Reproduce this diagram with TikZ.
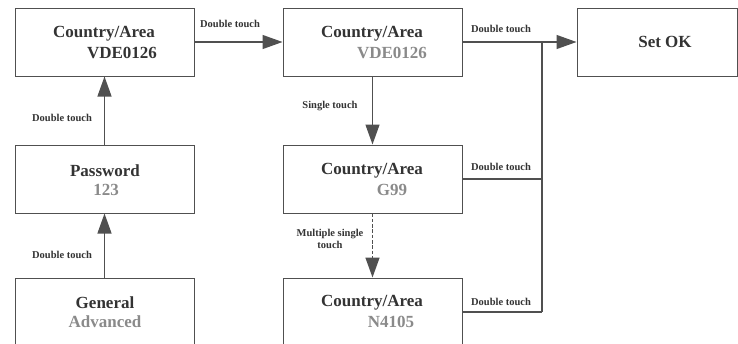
\documentclass[tikz,border=0pt]{standalone}
\usepackage{fontspec}
\setmainfont{Liberation Serif}
\usetikzlibrary{arrows.meta}
\definecolor{boxline}{HTML}{505050}
\definecolor{titletext}{HTML}{333333}
\definecolor{subtext}{HTML}{8A8A8A}
\begin{document}
\begin{tikzpicture}[x=1pt,y=-1pt,
  box/.style={draw=boxline, line width=1pt, minimum width=179pt, minimum height=68pt, inner sep=0pt},
  title/.style={font=\bfseries\fontsize{17}{20}\selectfont, text=titletext, inner sep=0pt},
  sub/.style={font=\bfseries\fontsize{17}{20}\selectfont, text=subtext, inner sep=0pt},
  lbl/.style={font=\bfseries\fontsize{10.5}{12.5}\selectfont, text=titletext, inner sep=0pt, align=center},
  conn/.style={draw=boxline, line width=1.3pt},
  arr/.style={conn, -{Triangle[length=20pt,width=14pt]}}
]
\useasboundingbox (0,0) rectangle (738,343);
\clip (0,0) rectangle (738,343);
% boxes
\node[box] (a) at (104.5,42) {};
\node[box] (pw) at (104.5,179) {};
\node[box] (gen) at (104.5,312) {};
\node[box] (b) at (372.5,42) {};
\node[box] (g) at (372.5,179) {};
\node[box] (n) at (372.5,312) {};
\node[box, minimum width=160pt] (ok) at (657,42) {};
% texts
\node[title] (at) at (104,34) {Country/Area};
\node[title] (as) at (122,53) {VDE0126};
\node[title] (pwt) at (105,171) {Password};
\node[sub] (pws) at (106,190) {123};
\node[title] (gent) at (105,303) {General};
\node[sub] (gens) at (105,322) {Advanced};
\node[title] (bt) at (372,34) {Country/Area};
\node[sub] (bs) at (392,53) {VDE0126};
\node[title] (gt) at (372,171) {Country/Area};
\node[sub] (gs) at (392,190) {G99};
\node[title] (nt) at (372,303) {Country/Area};
\node[sub] (ns) at (391,322) {N4105};
\node[title] (okt) at (665,42) {Set OK};
% junction
\coordinate (jt) at (542,42);
\coordinate (jb) at (542,312);
% connectors
\draw[arr] (a.east) -- (b.west);
\draw[arr] (pw.north) -- (a.south);
\draw[arr] (gen.north) -- (pw.south);
\draw[arr] (b.south) -- (g.north);
\draw[arr, line width=1.5pt, dash pattern=on 3.5pt off 1.8pt] (g.south) -- (n.north);
\draw[arr] (b.east) -- (ok.west);
\draw[conn] (jt) -- (jb);
\draw[conn] (g.east) -- (g.east -| jt);
\draw[conn] (n.east) -- (jb);
% labels
\node[lbl] (l1) at (230,24) {Double touch};
\node[lbl] (l2) at (62,118) {Double touch};
\node[lbl] (l3) at (62,255) {Double touch};
\node[lbl] (l4) at (330,106) {Single touch};
\node[lbl] (l5) at (330,239) {Multiple single\\touch};
\node[lbl] (l6) at (501,29) {Double touch};
\node[lbl] (l7) at (501,167) {Double touch};
\node[lbl] (l8) at (501,302) {Double touch};
\end{tikzpicture}
\end{document}
